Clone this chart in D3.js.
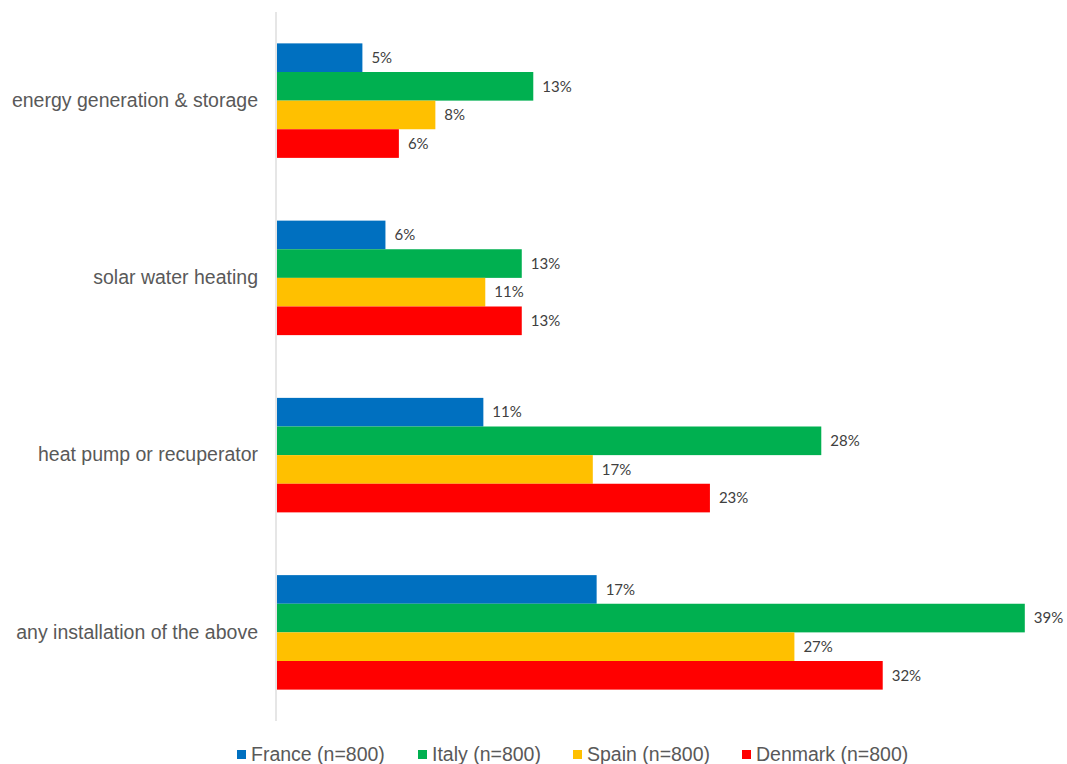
<!DOCTYPE html>
<html>
<head>
<meta charset="utf-8">
<script src="https://cdn.jsdelivr.net/npm/d3@7"></script>
<style>
  html, body { margin: 0; padding: 0; background: #fff; }
  svg { display: block; }
</style>
</head>
<body>
<svg id="chart" width="1067" height="764"></svg>
<script>
// Share of households (%) by installation type and country
const categories = [
  "energy generation & storage",
  "solar water heating",
  "heat pump or recuperator",
  "any installation of the above"
];
const seriesNames = ["France (n=800)", "Italy (n=800)", "Spain (n=800)", "Denmark (n=800)"];
const seriesColors = ["#0070C0", "#00B050", "#FFC000", "#FF0000"];
const france  = [4.5, 5.7, 10.8, 16.7];
const italy   = [13.4, 12.8, 28.4, 39.0];
const spain   = [8.3, 10.9, 16.5, 27.0];
const denmark = [6.4, 12.8, 22.6, 31.6];
const seriesValues = [france, italy, spain, denmark];

const svg = d3.select("#chart");
const plot = { left: 276, top: 12, bottom: 721 };

const x = d3.scaleLinear().domain([0, 40]).range([plot.left, plot.left + 768]);
const y0 = d3.scaleBand().domain(categories).range([plot.top, plot.bottom]).paddingInner(0.354).paddingOuter(0.177);
const y1 = d3.scaleBand().domain(d3.range(seriesNames.length)).range([0, y0.bandwidth()]);

const rows = [];
categories.forEach((c, i) => {
  seriesValues.forEach((vals, s) => rows.push({ cat: c, s, v: vals[i] }));
});

// bars
svg.append("g").selectAll("rect").data(rows).join("rect")
  .attr("x", x(0) + 1)
  .attr("y", d => y0(d.cat) + y1(d.s))
  .attr("width", d => x(d.v) - x(0) - 1)
  .attr("height", y1.bandwidth())
  .attr("fill", d => seriesColors[d.s]);

// value labels
svg.append("g").selectAll("text").data(rows).join("text")
  .attr("x", d => x(d.v) + 9)
  .attr("y", d => y0(d.cat) + y1(d.s) + y1.bandwidth() / 2)
  .attr("dy", "0.35em")
  .attr("font-family", "Lato, 'Open Sans', sans-serif")
  .attr("font-size", 15)
  .attr("fill", "#404040")
  .text(d => Math.round(d.v) + "%");

// vertical category axis
const yAxis = d3.axisLeft(y0).tickSize(0).tickPadding(18);
const ga = svg.append("g").attr("transform", `translate(${plot.left},0)`).call(yAxis);
ga.select(".domain").attr("stroke", "#d9d9d9").attr("stroke-width", 1.3)
  .attr("d", `M0,${plot.top}V${plot.bottom}`);
ga.selectAll("text")
  .attr("font-family", "'Liberation Sans', Arial, sans-serif")
  .attr("font-size", 19.5)
  .attr("fill", "#595959");

// legend
const legend = svg.append("g");
const legendX = [237, 418, 573, 742];
seriesNames.forEach((name, i) => {
  const g = legend.append("g").attr("transform", `translate(${legendX[i]},0)`);
  g.append("rect").attr("x", 0).attr("y", 750).attr("width", 9).attr("height", 9)
    .attr("fill", seriesColors[i]);
  g.append("text").attr("x", 14).attr("y", 761)
    .attr("font-family", "'Liberation Sans', Arial, sans-serif")
    .attr("font-size", 19.5)
    .attr("fill", "#595959")
    .text(name);
});
</script>
</body>
</html>
